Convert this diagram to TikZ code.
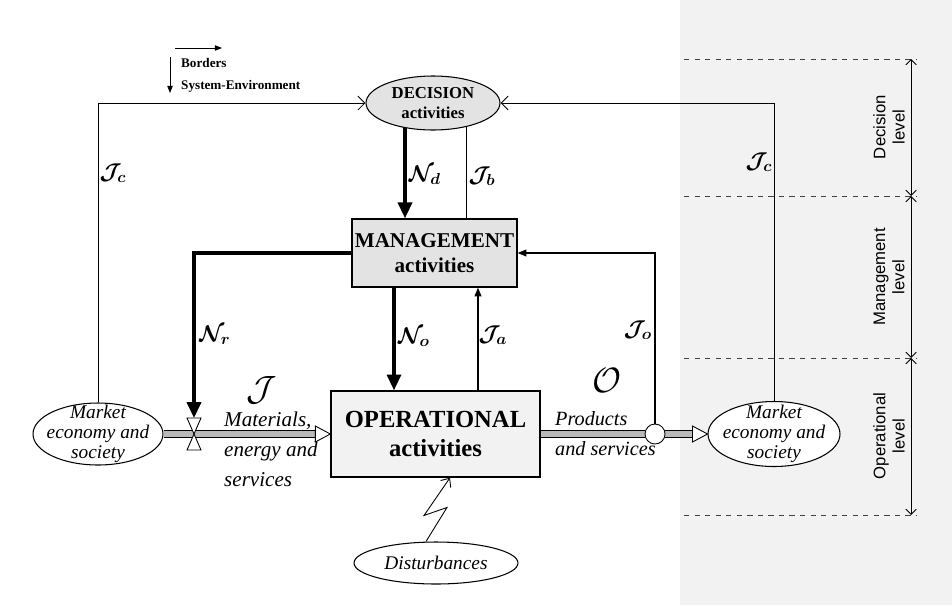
\documentclass[tikz,border=0pt]{standalone}
\usepackage{fix-cm}
\usepackage{fontspec}
\setmainfont{Liberation Serif}
\setsansfont{Liberation Sans}
\usetikzlibrary{shapes.geometric,arrows.meta,calc}
\pgfdeclarelayer{bg}
\pgfdeclarelayer{lines}
\pgfsetlayers{bg,lines,main}
\begin{document}
\begin{tikzpicture}[x=0.02cm,y=-0.02cm,
  box/.style={draw, line width=0.8pt, align=center, inner sep=0pt},
  ell/.style={ellipse, draw, line width=0.6pt, inner sep=0pt},
  ittext/.style={font=\itshape\fontsize{11}{11.5}\selectfont, align=center},
  thinline/.style={line width=0.5pt},
  flowN/.style={line width=1.8pt, -{Triangle[length=9pt,width=8pt]}},
  flowJ/.style={line width=0.6pt, -{Triangle[length=5pt,width=4pt]}},
  barb/.style={line width=0.5pt, -{Straight Barb[length=4pt,width=8pt]}},
  pipe/.style={line width=0.5pt, double=gray!55, double distance=3.2pt},
  tri/.style={draw, fill=white, line width=0.5pt},
  lab/.style={font=\boldmath\fontsize{13}{13}\selectfont},
  biglab/.style={font=\fontsize{20}{20}\selectfont},
  levtext/.style={rotate=90, align=center, font=\sffamily\fontsize{9.5}{11}\selectfont},
  lvdash/.style={dashed, line width=0.5pt, black!75},
  lvarrow/.style={line width=0.5pt, {Straight Barb[length=3pt,width=6pt]}-{Straight Barb[length=3pt,width=6pt]}}
]
\useasboundingbox (0,0) rectangle (952,605);
\begin{pgfonlayer}{bg}
  \fill[white] (0,0) rectangle (952,605);
  \fill[gray!10] (680,0) rectangle (952,605);
\end{pgfonlayer}

% ---- nodes ----
\node[ell, fill=gray!22, minimum width=2.68cm, minimum height=1.08cm,
  label={[font=\bfseries\fontsize{9.5}{11}\selectfont, align=center]center:DECISION\\activities}] (dec) at (433,103) {};
\node[box, fill=gray!22, minimum width=3.3cm, minimum height=1.36cm,
  font=\bfseries\fontsize{12}{14}\selectfont] (mgmt) at (434.5,253) {MANAGEMENT\\activities};
\node[box, fill=gray!10, minimum width=4.18cm, minimum height=1.72cm,
  font=\bfseries\fontsize{14}{17}\selectfont] (op) at (435.5,434) {OPERATIONAL\\activities};
\node[ell, fill=white, minimum width=2.6cm, minimum height=1.24cm,
  label={[ittext]center:Market\\economy and\\society}] (mL) at (98,434) {};
\node[ell, fill=white, minimum width=2.64cm, minimum height=1.3cm,
  label={[ittext]center:Market\\economy and\\society}] (mR) at (774,434) {};
\node[ell, fill=white, minimum width=3.28cm, minimum height=0.84cm,
  label={[ittext]center:Disturbances}] (dist) at (436,563) {};
\node[circle, draw, fill=white, minimum size=0.4cm, inner sep=0pt, line width=0.5pt] (circ) at (655,434) {};
\coordinate (valve) at (194,434);

% x positions of vertical connectors
\coordinate (xNd) at (405,0);
\coordinate (xJb) at (466,0);
\coordinate (xNo) at (394,0);
\coordinate (xJa) at (478,0);
\coordinate (xLt) at (450,0);

% ---- legend ----
\coordinate (lgH1) at (175,48);
\coordinate (lgH2) at (222,48);
\coordinate (lgV1) at (170,57);
\coordinate (lgV2) at (170,93);
\draw[line width=0.5pt, -{Triangle[length=4pt,width=3pt]}] (lgH1) -- (lgH2);
\draw[line width=0.5pt, -{Triangle[length=4pt,width=3pt]}] (lgV1) -- (lgV2);
\node[anchor=west, font=\bfseries\fontsize{7.5}{9}\selectfont] (bord) at (175,63) {Borders};
\node[anchor=west, font=\bfseries\fontsize{7.5}{9}\selectfont] (sysenv) at (175,86) {System-Environment};

% ---- connectors ----
\begin{pgfonlayer}{lines}
  \draw[barb] (mL.north) |- (dec.west);
  \draw[barb] (mR.north) |- (dec.east);
  \draw[flowN] (dec.center -| xNd) -- (mgmt.north -| xNd);
  \draw[thinline] (dec.center -| xJb) -- (mgmt.north -| xJb);
  \draw[flowN] (mgmt.west) -| ($(valve)+(0,-16)$);
  \draw[flowN] (mgmt.south -| xNo) -- (op.north -| xNo);
  \draw[flowJ] (op.north -| xJa) -- (mgmt.south -| xJa);
  \draw[flowJ] (circ.north) |- (mgmt.east);
  \draw[pipe] (mL.east) -- ($(op.west)+(-15,0)$);
  \draw[pipe] (op.east) -- (circ.west);
  \draw[pipe] (circ.east) -- ($(mR.west)+(-15,0)$);
\end{pgfonlayer}
\draw[tri] (op.west) -- ++(-15,-8) -- ++(0,16) -- cycle;
\draw[tri] (mR.west) -- ++(-15,-8) -- ++(0,16) -- cycle;
\draw[tri] (valve) -- ++(-7,-16) -- ++(14,0) -- cycle;
\draw[tri] (valve) -- ++(-7,16) -- ++(14,0) -- cycle;
% disturbance lightning
\draw[line width=0.5pt, -{Straight Barb[length=4pt,width=7pt]}]
  ($(dist.north)+(-10,0)$) -- ++(21,-34) -- ++(-23,8) -- (op.south -| xLt);

% ---- labels ----
\node[lab] (lNd) at (425,175) {$\mathcal{N}_d$};
\node[lab] (lJb) at (482,176) {$\mathcal{J}_b$};
\node[lab] (lNr) at (215,335) {$\mathcal{N}_r$};
\node[lab] (lNo) at (414,337) {$\mathcal{N}_o$};
\node[lab] (lJa) at (493,335) {$\mathcal{J}_a$};
\node[lab] (lJo) at (638,330) {$\mathcal{J}_o$};
\node[lab] (lJcL) at (113,173) {$\mathcal{J}_c$};
\node[lab] (lJcR) at (759,162) {$\mathcal{J}_c$};
\node[biglab] (lJ) at (262,390) {$\mathcal{J}$};
\node[biglab] (lO) at (607,380) {$\mathcal{O}$};
\node[anchor=base west, align=left, font=\itshape\fontsize{12}{17}\selectfont] (inp) at (218,486) {Materials,\\energy and\\services};
\node[anchor=base west, align=left, font=\itshape\fontsize{11.5}{17}\selectfont] (outp) at (549,455) {Products\\and services};

% ---- levels ----
\foreach \y/\n in {59/0,196/1,358/2,515/3}{
  \coordinate (da\n) at (684,\y);
  \coordinate (db\n) at (917,\y);
  \coordinate (lv\n) at (911,\y);
  \draw[lvdash] (da\n) -- (db\n);
}
\draw[lvarrow] (lv0) -- (lv1);
\draw[lvarrow] (lv1) -- (lv2);
\draw[lvarrow] (lv2) -- (lv3);
\node[levtext] (lvD) at (889,127) {Decision\\level};
\node[levtext] (lvM) at (889,277) {Management\\level};
\node[levtext] (lvO) at (889,436) {Operational\\level};
\end{tikzpicture}
\end{document}
